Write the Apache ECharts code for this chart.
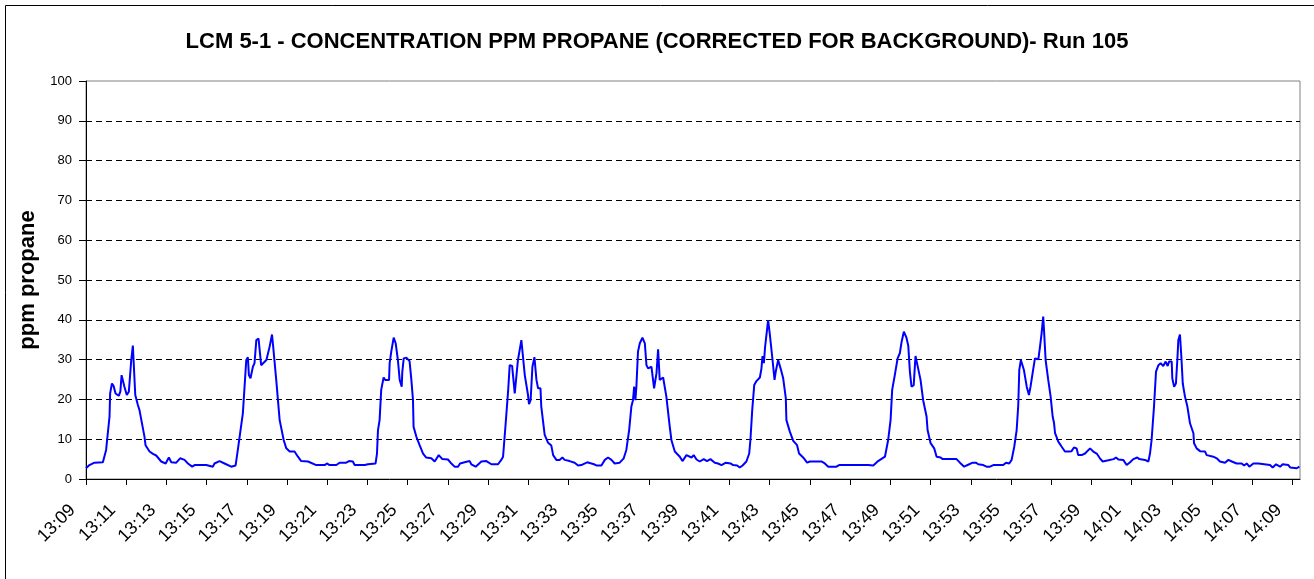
<!DOCTYPE html>
<html>
<head>
<meta charset="utf-8">
<title>LCM 5-1 - Run 105</title>
<script src="https://cdn.jsdelivr.net/npm/echarts@6/dist/echarts.min.js"></script>
<style>
  html, body { margin: 0; padding: 0; background: #fff; }
  #main { width: 1314px; height: 579px; }
</style>
</head>
<body>
<div id="main"></div>
<script>
// minutes after 13:09
var times = [
  0.0, 0.17, 0.42, 0.84, 1.0, 1.17, 1.2, 1.29, 1.37, 1.47, 1.63, 1.71, 1.77, 1.83, 1.91, 2.03, 2.13, 2.25, 2.33, 2.45,
  2.58, 2.66, 2.91, 2.96, 3.16, 3.33, 3.49, 3.74, 3.96, 4.12, 4.24, 4.49, 4.68, 4.9, 5.07, 5.28, 5.4, 5.98, 6.06, 6.31,
  6.39, 6.64, 6.89, 7.22, 7.44, 7.55, 7.8, 7.97, 8.05, 8.1, 8.18, 8.3, 8.38, 8.47, 8.58, 8.71, 8.8, 8.97, 9.13, 9.25,
  9.3, 9.46, 9.63, 9.83, 9.96, 10.13, 10.37, 10.54, 10.7, 11.04, 11.12, 11.45, 11.87, 11.98, 12.11, 12.45, 12.61, 12.94, 13.08, 13.27,
  13.36, 13.86, 13.94, 14.02, 14.4, 14.47, 14.52, 14.6, 14.68, 14.8, 14.88, 14.97, 15.07, 15.1, 15.18, 15.3, 15.4, 15.51, 15.6, 15.7,
  15.73, 15.8, 15.93, 16.09, 16.18, 16.26, 16.29, 16.43, 16.59, 16.76, 16.92, 17.17, 17.34, 17.54, 17.72, 18.0, 18.13, 18.33, 18.5, 18.6,
  18.83, 18.91, 19.08, 19.16, 19.38, 19.66, 19.91, 20.16, 20.49, 20.65, 20.74, 20.87, 20.99, 21.07, 21.19, 21.32, 21.37, 21.48, 21.65, 21.82,
  21.98, 22.03, 22.11, 22.2, 22.3, 22.4, 22.48, 22.6, 22.64, 22.81, 22.98, 23.14, 23.23, 23.39, 23.55, 23.69, 23.8, 24.05, 24.3, 24.47,
  24.63, 24.92, 25.13, 25.27, 25.38, 25.63, 25.8, 25.96, 26.13, 26.29, 26.54, 26.74, 26.87, 27.01, 27.12, 27.2, 27.26, 27.32, 27.37, 27.45,
  27.54, 27.67, 27.79, 27.87, 27.95, 28.12, 28.17, 28.25, 28.37, 28.45, 28.53, 28.62, 28.7, 28.86, 29.03, 29.11, 29.28, 29.53, 29.66, 29.86,
  30.11, 30.22, 30.36, 30.52, 30.72, 30.88, 31.05, 31.27, 31.43, 31.6, 31.82, 32.05, 32.18, 32.38, 32.51, 32.65, 32.84, 32.98, 33.04, 33.13,
  33.23, 33.34, 33.51, 33.59, 33.64, 33.71, 33.77, 33.92, 34.0, 34.14, 34.24, 34.3, 34.42, 34.54, 34.67, 34.8, 34.83, 35.0, 35.17, 35.36,
  35.46, 35.7, 35.86, 36.0, 36.57, 36.74, 36.91, 37.32, 37.45, 38.9, 38.98, 39.15, 39.39, 39.48, 39.73, 39.89, 40.01, 40.09, 40.22, 40.36,
  40.47, 40.56, 40.67, 40.8, 40.89, 40.97, 41.05, 41.16, 41.25, 41.38, 41.5, 41.63, 41.8, 41.85, 42.0, 42.18, 42.3, 42.5, 42.6, 43.29,
  43.46, 43.67, 43.79, 44.09, 44.25, 44.37, 44.62, 44.78, 44.95, 45.12, 45.61, 45.75, 45.91, 46.03, 46.16, 46.28, 46.36, 46.41, 46.49, 46.64,
  46.78, 46.89, 46.97, 47.11, 47.19, 47.36, 47.44, 47.52, 47.6, 47.64, 47.72, 47.85, 47.97, 48.07, 48.14, 48.19, 48.35, 48.52, 48.68, 48.77,
  48.85, 49.01, 49.13, 49.26, 49.34, 49.51, 49.68, 49.93, 50.09, 50.26, 50.42, 50.56, 50.84, 50.92, 51.1, 51.22, 51.34, 51.58, 51.75, 51.92,
  52.08, 52.28, 52.38, 52.66, 52.83, 52.91, 52.99, 53.11, 53.21, 53.33, 53.44, 53.57, 53.69, 53.79, 53.86, 53.99, 54.02, 54.11, 54.2, 54.27,
  54.32, 54.4, 54.47, 54.54, 54.65, 54.77, 54.9, 55.07, 55.1, 55.23, 55.4, 55.65, 55.73, 56.06, 56.23, 56.39, 56.64, 56.81, 56.98, 57.22,
  57.47, 57.59, 57.72, 57.85, 58.05, 58.3, 58.38, 58.88, 59.01, 59.18, 59.38, 59.51, 59.79, 59.88, 60.21, 60.34
];

var ppm = [
  2.7, 3.5, 4.1, 4.2, 7.3, 15.7, 21.5, 24.0, 23.4, 21.5, 20.9, 22.0, 26.1, 26.5, 23.2, 21.1, 21.9, 29.9, 33.5, 21.1,
  18.6, 17.3, 10.6, 8.5, 6.9, 6.3, 5.9, 4.4, 3.9, 5.4, 4.2, 4.1, 5.2, 4.8, 3.9, 3.1, 3.5, 3.5, 3.1, 3.1,
  3.9, 4.5, 3.9, 3.1, 3.4, 7.3, 16.5, 29.9, 30.6, 26.1, 25.3, 28.2, 29.1, 34.9, 35.3, 28.6, 28.1, 29.9, 33.2, 36.3,
  33.7, 24.9, 14.8, 9.8, 7.7, 6.9, 6.9, 5.6, 4.5, 4.4, 4.1, 3.5, 3.5, 3.9, 3.5, 3.5, 4.1, 4.1, 4.5, 4.4,
  3.5, 3.5, 3.1, 3.7, 3.9, 6.4, 12.3, 14.8, 22.4, 25.5, 24.9, 25.3, 24.9, 29.1, 32.0, 35.5, 34.1, 29.9, 24.9, 23.2,
  27.0, 30.3, 30.5, 29.6, 24.9, 19.9, 13.1, 10.6, 8.5, 6.4, 5.4, 5.2, 4.4, 6.0, 5.0, 4.9, 4.1, 3.1, 3.1, 3.9,
  4.2, 3.9, 4.5, 3.7, 3.1, 4.4, 4.5, 3.7, 3.7, 4.8, 5.6, 14.0, 22.0, 28.6, 28.4, 21.5, 21.1, 29.9, 34.9, 26.1,
  21.1, 18.8, 19.8, 28.2, 30.6, 24.9, 22.8, 22.8, 18.2, 11.1, 9.1, 8.4, 6.0, 4.8, 4.8, 5.4, 4.8, 4.5, 4.1, 3.4,
  3.5, 4.2, 3.9, 3.7, 3.4, 3.4, 4.8, 5.4, 4.8, 3.9, 4.1, 5.2, 7.3, 12.3, 18.2, 19.8, 23.2, 19.8, 23.2, 32.0,
  34.1, 35.5, 34.1, 28.6, 27.8, 28.2, 28.4, 22.8, 26.6, 32.6, 24.9, 25.3, 25.5, 20.7, 13.1, 9.8, 6.9, 5.6, 4.5, 6.0,
  5.4, 6.0, 4.9, 4.4, 5.0, 4.5, 5.0, 4.1, 3.9, 3.5, 4.1, 3.9, 3.5, 3.4, 2.9, 3.4, 4.4, 6.4, 9.8, 17.3,
  23.6, 24.6, 25.5, 27.8, 30.9, 29.1, 33.2, 39.9, 36.6, 29.9, 24.9, 27.0, 29.9, 27.8, 25.3, 20.3, 14.8, 11.9, 9.6, 8.5,
  6.4, 5.2, 4.1, 4.4, 4.4, 3.9, 3.1, 3.1, 3.5, 3.5, 3.1, 3.4, 4.5, 4.1, 5.6, 9.8, 14.8, 22.4, 26.1, 30.3,
  31.6, 34.5, 37.0, 35.5, 33.5, 27.0, 23.2, 23.6, 30.9, 27.8, 24.9, 19.8, 15.7, 12.3, 9.0, 7.7, 5.6, 5.4, 5.0, 5.0,
  4.1, 3.1, 3.4, 4.1, 4.1, 3.7, 3.5, 3.1, 3.1, 3.5, 3.5, 4.1, 3.9, 4.8, 8.1, 12.3, 18.6, 27.4, 29.9, 27.4,
  23.2, 21.1, 23.2, 27.8, 30.3, 30.1, 33.2, 36.6, 40.8, 37.4, 29.9, 24.9, 20.7, 15.7, 14.0, 11.5, 9.4, 8.1, 6.9, 6.4,
  6.9, 7.0, 7.9, 7.7, 6.0, 6.0, 6.4, 7.7, 6.9, 6.4, 5.2, 4.4, 4.7, 5.0, 5.0, 5.4, 4.9, 4.8, 3.5, 4.2,
  5.0, 5.4, 5.0, 4.8, 4.4, 6.4, 9.8, 18.2, 27.0, 28.6, 29.1, 28.4, 29.5, 28.4, 29.5, 29.5, 25.3, 23.2, 24.0, 29.9,
  34.9, 36.3, 30.7, 24.0, 20.7, 18.2, 14.0, 11.5, 9.0, 7.7, 7.0, 6.9, 6.0, 5.6, 5.2, 4.4, 4.1, 4.8, 4.4, 3.9,
  3.9, 3.4, 3.9, 3.1, 3.9, 3.9, 3.5, 3.5, 2.9, 3.7, 3.1, 3.7, 3.5, 2.9, 2.7, 3.1
];

var startHour = 13;
var startMinute = 9;
var xMax = 60.37;
var yTicks = [0, 100, 10];   // min, max, step
var chartTitle = 'LCM 5-1 - CONCENTRATION PPM PROPANE (CORRECTED FOR BACKGROUND)- Run 105';
var yTitle = 'ppm propane';

var seriesData = [];
for (var i = 0; i < times.length; i++) {
  seriesData.push([times[i], ppm[i]]);
}

function clockLabel(v) {
  var total = startHour * 60 + startMinute + Math.round(v);
  var h = Math.floor(total / 60);
  var m = total % 60;
  return h + ':' + (m < 10 ? '0' + m : m);
}

var myChart = echarts.init(document.getElementById('main'));

var font = 'Liberation Sans, Arial, sans-serif';

option = {
  animation: false,
  backgroundColor: '#ffffff',
  title: {
    text: chartTitle,
    left: 'center',
    top: 26,
    textStyle: { fontFamily: font, fontSize: 22, fontWeight: 'bold', color: '#000' }
  },
  graphic: [
    {
      // outer frame, only top/left edges fall inside the picture
      type: 'rect',
      shape: { x: 5.5, y: 5.5, width: 1330, height: 600 },
      style: { fill: null, stroke: '#000', lineWidth: 1 },
      silent: true
    }
  ],
  grid: {
    left: 86,
    right: 14,
    top: 81,
    bottom: 100,
    show: true,
    borderColor: '#808080',
    borderWidth: 1,
    backgroundColor: 'transparent'
  },
  xAxis: {
    type: 'value',
    min: 0,
    max: xMax,
    interval: 2,
    axisLine: { show: true, onZero: false, lineStyle: { color: '#000', width: 1 } },
    axisTick: { show: true, length: 6, lineStyle: { color: '#000' } },
    splitLine: { show: false },
    axisLabel: {
      rotate: 45,
      margin: 15,
      padding: [0, 19, 0, 0],
      showMaxLabel: false,
      fontFamily: font,
      fontSize: 18,
      color: '#000',
      formatter: function (v) { return clockLabel(v); }
    }
  },
  yAxis: {
    type: 'value',
    min: yTicks[0],
    max: yTicks[1],
    interval: yTicks[2],
    name: yTitle,
    nameLocation: 'middle',
    nameGap: 46,
    nameTextStyle: { fontFamily: font, fontSize: 22, fontWeight: 'bold', color: '#000' },
    axisLine: { show: true, lineStyle: { color: '#000', width: 1 } },
    axisTick: { show: true, length: 7, lineStyle: { color: '#000' } },
    axisLabel: { margin: 14, fontFamily: font, fontSize: 13, color: '#000' },
    splitLine: {
      show: true,
      showMinLine: false,
      showMaxLine: false,
      lineStyle: { color: '#000', width: 1, type: [6, 4] }
    }
  },
  series: [
    {
      type: 'line',
      data: seriesData,
      showSymbol: false,
      symbol: 'none',
      smooth: false,
      lineStyle: { color: '#0000ff', width: 2 },
      itemStyle: { color: '#0000ff' }
    }
  ]
};

myChart.setOption(option);
</script>
</body>
</html>
